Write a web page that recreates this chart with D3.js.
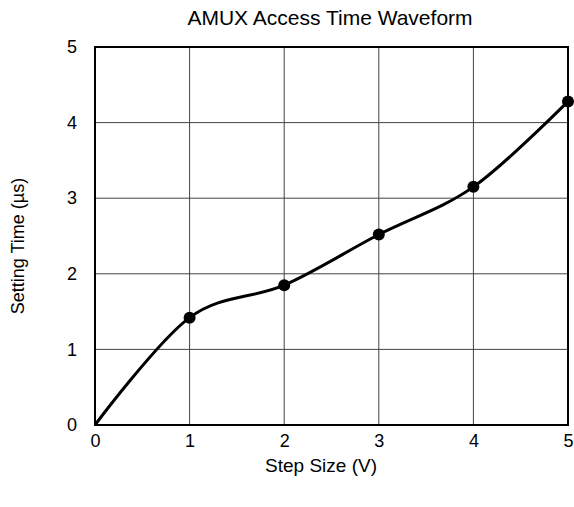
<!DOCTYPE html>
<html><head><meta charset="utf-8">
<script src="https://cdn.jsdelivr.net/npm/d3@7"></script>
<style>body{margin:0;background:#fff;}svg{display:block;font-family:"Liberation Sans",Arial,sans-serif;}</style>
</head><body>
<svg id="c" width="574" height="507"></svg>
<script>
const stepSize = [0, 1, 2, 3, 4, 5];
const settlingTime = [0, 1.42, 1.85, 2.52, 3.15, 4.28];
const xTicks = [0, 1, 2, 3, 4, 5];
const yTicks = [0, 1, 2, 3, 4, 5];
const title = "AMUX Access Time Waveform";
const xTitle = "Step Size (V)";
const yTitle = "Setting Time (µs)";

const svg = d3.select("#c");
const L = 95, R = 568, T = 47, B = 425;
const x = d3.scaleLinear().domain([0, 5]).range([L, R]);
const y = d3.scaleLinear().domain([0, 5]).range([B, T]);
const FF = "Liberation Sans, Arial, sans-serif";

const g = svg.append("g");
g.selectAll(".vg").data(xTicks.slice(1, -1)).enter().append("line")
  .attr("x1", d => x(d)).attr("x2", d => x(d)).attr("y1", T).attr("y2", B)
  .attr("stroke", "#444").attr("stroke-width", 1);
g.selectAll(".hg").data(yTicks.slice(1, -1)).enter().append("line")
  .attr("x1", L).attr("x2", R).attr("y1", d => y(d)).attr("y2", d => y(d))
  .attr("stroke", "#444").attr("stroke-width", 1);

const xAxis = svg.append("g").attr("transform", `translate(0,${B})`)
  .call(d3.axisBottom(x).tickValues(xTicks).tickSize(0).tickPadding(9).tickFormat(d3.format("d")));
xAxis.select(".domain").remove();
xAxis.selectAll("text").attr("font-size", 18).attr("fill", "#000").attr("font-family", FF);

const yAxis = svg.append("g").attr("transform", `translate(${L},0)`)
  .call(d3.axisLeft(y).tickValues(yTicks).tickSize(0).tickPadding(18).tickFormat(d3.format("d")));
yAxis.select(".domain").remove();
yAxis.selectAll("text").attr("font-size", 18).attr("fill", "#000").attr("font-family", FF);

svg.append("rect").attr("x", L).attr("y", T).attr("width", R - L).attr("height", B - T)
  .attr("fill", "none").attr("stroke", "#000").attr("stroke-width", 2);

const data = stepSize.map((d, i) => [d, settlingTime[i]]);
const line = d3.line().x(d => x(d[0])).y(d => y(d[1])).curve(d3.curveCatmullRom.alpha(0));
svg.append("path").datum(data).attr("d", line).attr("fill", "none")
  .attr("stroke", "#000").attr("stroke-width", 3);
svg.selectAll(".pt").data(data.slice(1)).enter().append("circle")
  .attr("cx", d => x(d[0])).attr("cy", d => y(d[1])).attr("r", 6).attr("fill", "#000");

svg.append("text").attr("x", 330).attr("y", 25).attr("text-anchor", "middle")
  .attr("font-size", 21).text(title);
svg.append("text").attr("x", 321).attr("y", 472).attr("text-anchor", "middle")
  .attr("font-size", 19).text(xTitle);
svg.append("text").attr("transform", `translate(24,246) rotate(-90)`).attr("text-anchor", "middle")
  .attr("font-size", 18).text(yTitle);
</script>
</body></html>
